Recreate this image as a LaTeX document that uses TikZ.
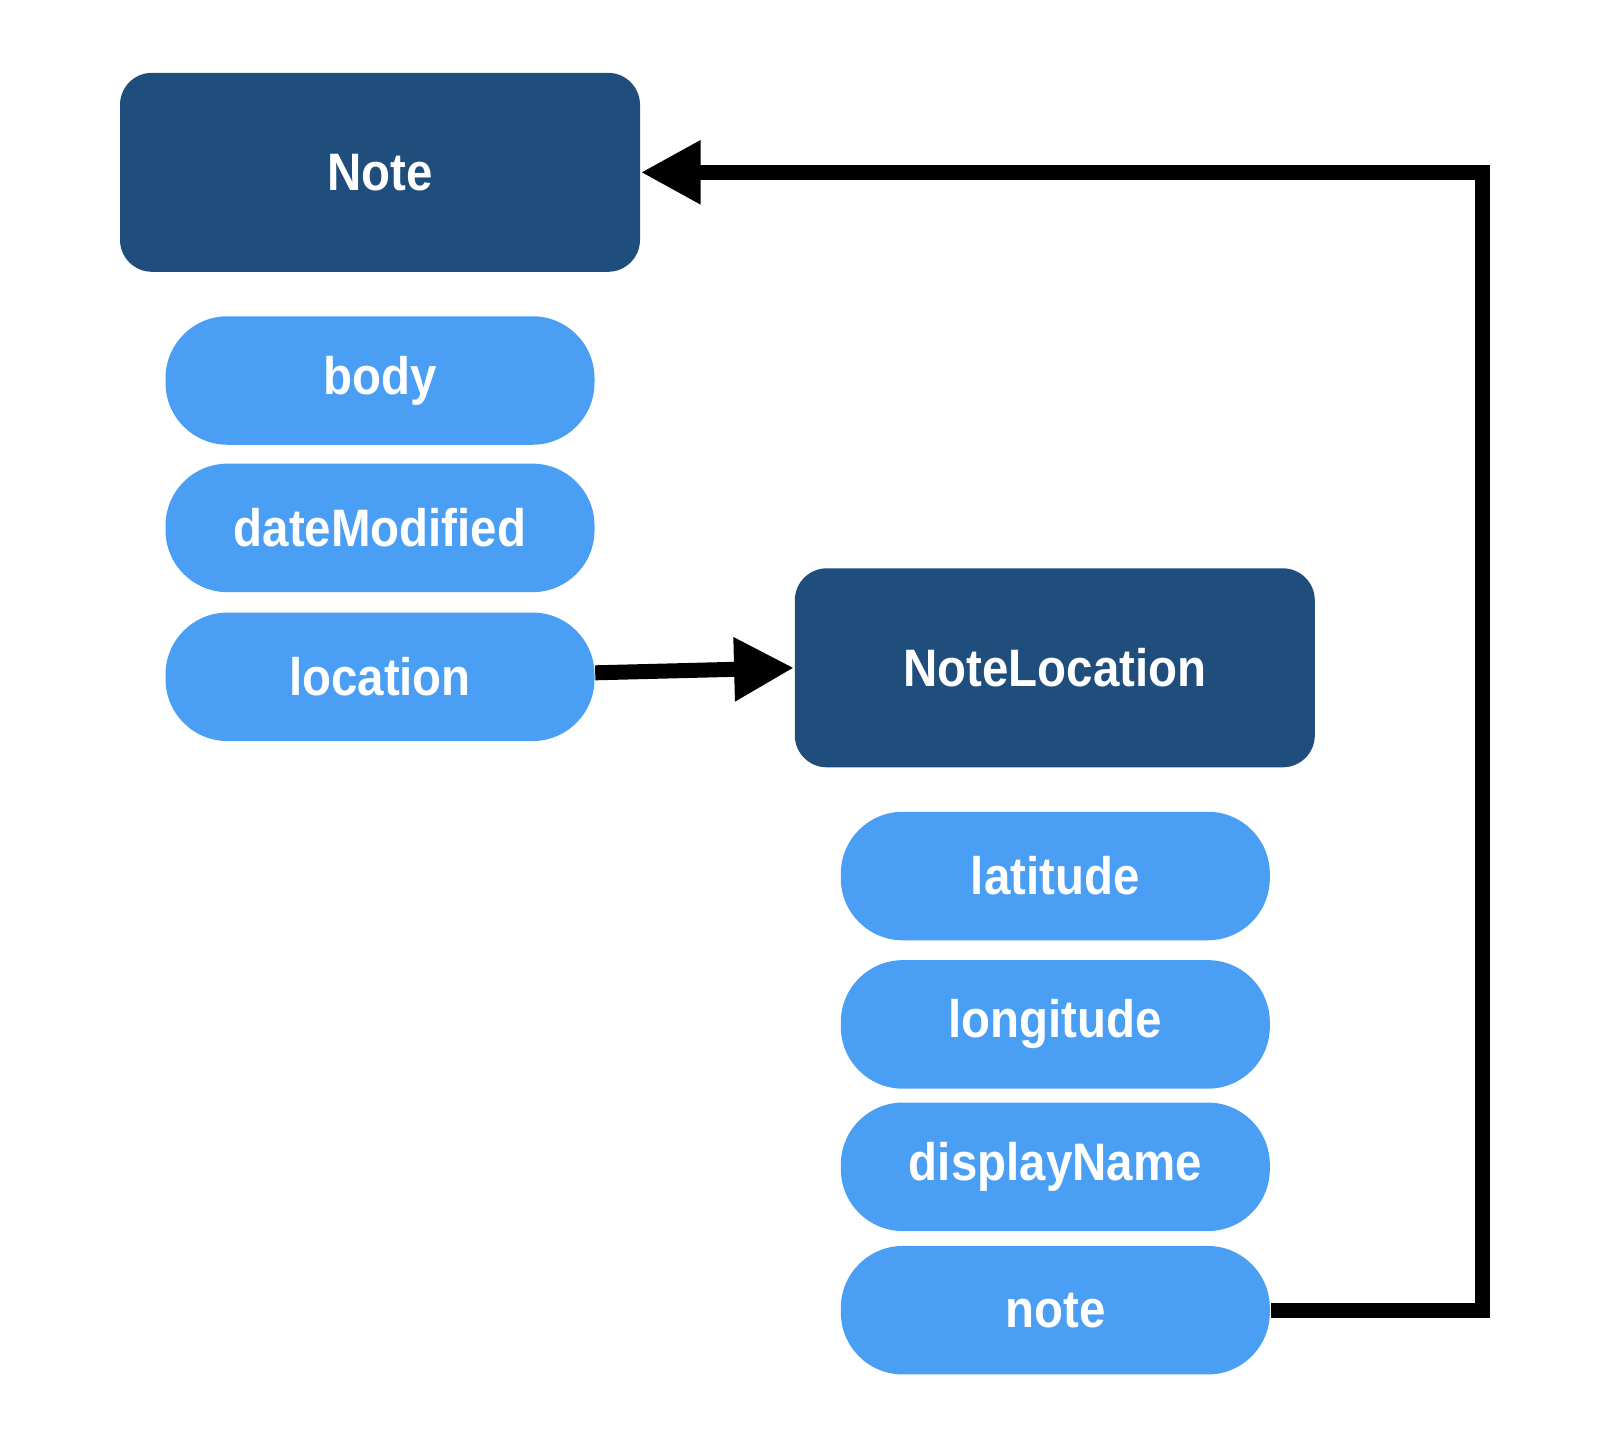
\documentclass[tikz,border=0pt]{standalone}
\usepackage{fontspec}
\setmainfont{Liberation Sans}[FakeStretch=0.9]
\usetikzlibrary{arrows.meta}
\definecolor{entity}{RGB}{31,78,125}
\definecolor{attr}{RGB}{74,159,245}
\tikzset{
  entitybox/.style={fill=entity, rounded corners=0.32cm, minimum width=5.20cm, minimum height=1.99cm, text=white, font=\fontsize{15}{18}\selectfont\bfseries, inner sep=0pt},
  attrpill/.style={fill=attr, rounded corners=0.62cm, minimum width=4.29cm, minimum height=1.285cm, text=white, font=\fontsize{15}{18}\selectfont\bfseries, inner sep=0pt},
  relarrow/.style={line width=0.15cm, -{Triangle[length=0.6cm, width=0.6cm]}}
}
\begin{document}
\begin{tikzpicture}
\useasboundingbox (0,0) rectangle (16,-14.4);
\node[entitybox] (Note) at (3.80,-1.723) {Note};
\node[attrpill] (body) at (3.80,-3.805) {body};
\node[attrpill] (dateModified) at (3.80,-5.279) {dateModified};
\node[attrpill] (location) at (3.80,-6.768) {location};
\node[entitybox] (NoteLocation) at (10.548,-6.678) {NoteLocation};
\node[attrpill] (latitude) at (10.553,-8.760) {latitude};
\node[attrpill] (longitude) at (10.553,-10.244) {longitude};
\node[attrpill] (displayName) at (10.553,-11.668) {displayName};
\node[attrpill] (note) at (10.553,-13.102) {note};
\coordinate (turnA) at (14.82,-13.102);
\coordinate (turnB) at (14.82,-1.723);
\draw[relarrow] ([yshift=0.04cm]location.east) -- (NoteLocation.west);
\draw[relarrow, line join=miter] (note.east) -- (turnA) -- (turnB) -- (Note.east);
\end{tikzpicture}
\end{document}
